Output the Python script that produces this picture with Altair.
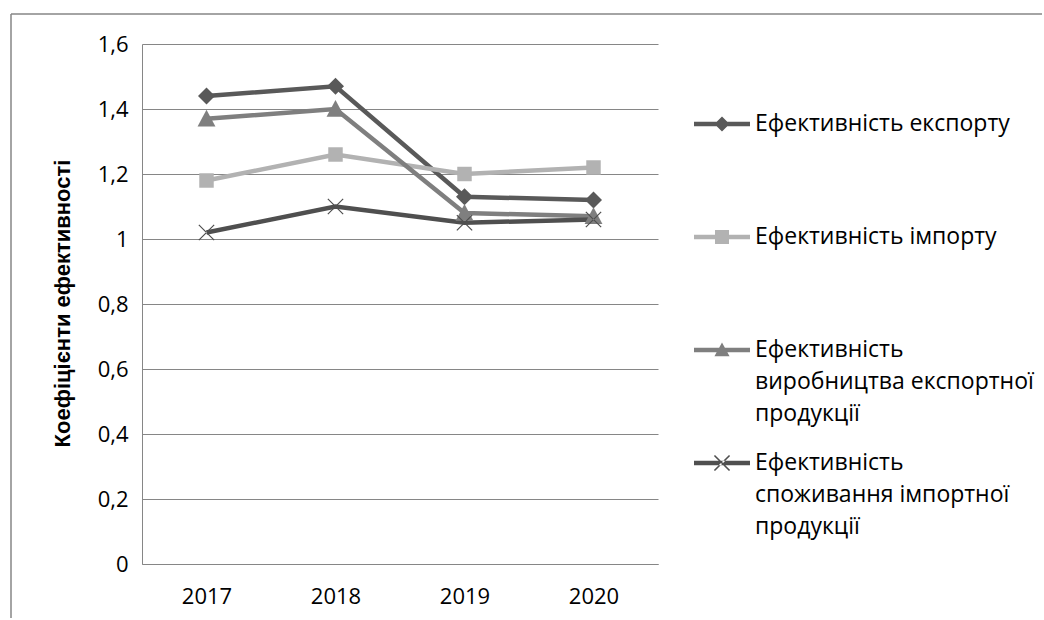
import altair as alt
import pandas as pd

years = ["2017", "2018", "2019", "2020"]
series_names = [
    "Ефективність експорту",
    "Ефективність імпорту",
    "Ефективність виробництва експортної продукції",
    "Ефективність споживання імпортної продукції",
]
export_eff = [1.44, 1.47, 1.13, 1.12]
import_eff = [1.18, 1.26, 1.20, 1.22]
prod_export_eff = [1.37, 1.40, 1.08, 1.07]
cons_import_eff = [1.02, 1.10, 1.05, 1.06]
y_ticks = [0, 0.2, 0.4, 0.6, 0.8, 1.0, 1.2, 1.4, 1.6]

colors = ["#595959", "#b2b2b2", "#7f7f7f", "#4f4f4f"]

rows = []
for name, vals in zip(series_names, [export_eff, import_eff, prod_export_eff, cons_import_eff]):
    for yr, v in zip(years, vals):
        rows.append({"year": yr, "value": v, "series": name})
df = pd.DataFrame(rows)

# marker paths (unit coords)
diamond = "M0,-1L1,0L0,1L-1,0Z"
square = "M-0.85,-0.85H0.85V0.85H-0.85Z"
triangle = "M0,-1.05L1.05,0.9H-1.05Z"
xmark = ("M-0.85,-0.95L0.95,0.85L0.85,0.95L-0.95,-0.85Z"
         "M-0.85,0.95L0.95,-0.85L0.85,-0.95L-0.95,0.85Z")
chart_shapes = [diamond, square, triangle, xmark]

# legend symbols: line + marker (unit coords, symbol is 56px wide)
bar = "M-1,-0.08H1V0.08H-1Z"
leg_shapes = [
    bar + "M0,-0.27L0.27,0L0,0.27L-0.27,0Z",
    bar + "M-0.25,-0.25H0.25V0.25H-0.25Z",
    bar + "M0,-0.27L0.27,0.22H-0.27Z",
    bar + "M-0.25,-0.29L0.29,0.25L0.25,0.29L-0.29,-0.25Z"
          "M-0.25,0.29L0.29,-0.25L0.25,-0.29L-0.29,0.25Z",
]

label_font = "Open Sans"
fs = 22

x_enc = alt.X("year:O", scale=alt.Scale(type="point", padding=0.5),
              axis=alt.Axis(title=None, labelAngle=0, ticks=False, labelPadding=22,
                            domain=True, domainColor="#868686", grid=False,
                            labelFont=label_font, labelFontSize=fs, labelColor="#000000"))
y_enc = alt.Y("value:Q", scale=alt.Scale(domain=[0, 1.6], nice=False, zero=True),
              axis=alt.Axis(values=y_ticks, title="Коефіцієнти ефективності",
                            labelExpr="replace(format(datum.value, '.1~f'), '.', ',')",
                            ticks=False, labelPadding=14, domain=True, domainColor="#868686",
                            grid=True, gridColor="#868686", gridWidth=1.2,
                            labelFont=label_font, labelFontSize=fs, labelColor="#000000",
                            titleFont="Liberation Sans", titleFontSize=22, titleFontWeight="bold",
                            titleColor="#000000", titleAngle=-90, titleX=-80, titleY=259,
                            titleAlign="center", titleBaseline="middle"))

color_scale = alt.Scale(domain=series_names, range=colors)

lines = alt.Chart(df).mark_line(strokeWidth=4.5).encode(
    x=x_enc, y=y_enc,
    color=alt.Color("series:N", scale=color_scale, legend=None, sort=series_names),
    detail="series:N",
)

points = alt.Chart(df).mark_point(filled=True, opacity=1, size=290).encode(
    x=x_enc, y=y_enc,
    color=alt.Color("series:N", scale=color_scale, legend=None),
    shape=alt.Shape("series:N", scale=alt.Scale(domain=series_names, range=chart_shapes), legend=None),
)

label_expr = (
    "datum.label == 'Ефективність виробництва експортної продукції' ? "
    "['Ефективність', 'виробництва експортної', 'продукції'] : "
    "datum.label == 'Ефективність споживання імпортної продукції' ? "
    "['Ефективність', 'споживання імпортної', 'продукції'] : [datum.label, ' ', ' ']"
)

legend_layer = alt.Chart(df).transform_filter("false").mark_point(filled=True, opacity=1).encode(
    x=x_enc, y=y_enc,
    color=alt.Color("series:N", scale=color_scale,
                    legend=alt.Legend(title=None, orient="none", legendX=552, legendY=52,
                                      padding=0, symbolSize=3136, labelOffset=5,
                                      rowPadding=9, labelExpr=label_expr,
                                      labelFont=label_font, labelFontSize=23,
                                      labelColor="#000000", labelLimit=400,
                                      symbolStrokeWidth=0)),
    shape=alt.Shape("series:N", scale=alt.Scale(domain=series_names, range=leg_shapes)),
)

frame_data = alt.Data(values=[{"a": 1}])
frame_top = alt.Chart(frame_data).mark_rule(stroke="#868686", strokeWidth=1.5, clip=False).encode(
    x=alt.value(-131), x2=alt.value(900), y=alt.value(-30))
frame_left = alt.Chart(frame_data).mark_rule(stroke="#868686", strokeWidth=1.5, clip=False).encode(
    x=alt.value(-131), y=alt.value(-30), y2=alt.value(574))

chart = alt.layer(frame_top, frame_left, lines, points, legend_layer).resolve_scale(
    color="independent", shape="independent"
).properties(
    width=516, height=520,
    padding={"left": 10, "top": 13, "right": 0, "bottom": 0},
    background="#ffffff",
).configure(style={"guide-label": {"lineHeight": 32}}).configure_view(stroke=None)

chart.save("out.html", embed_options={"renderer": "svg", "actions": False})
